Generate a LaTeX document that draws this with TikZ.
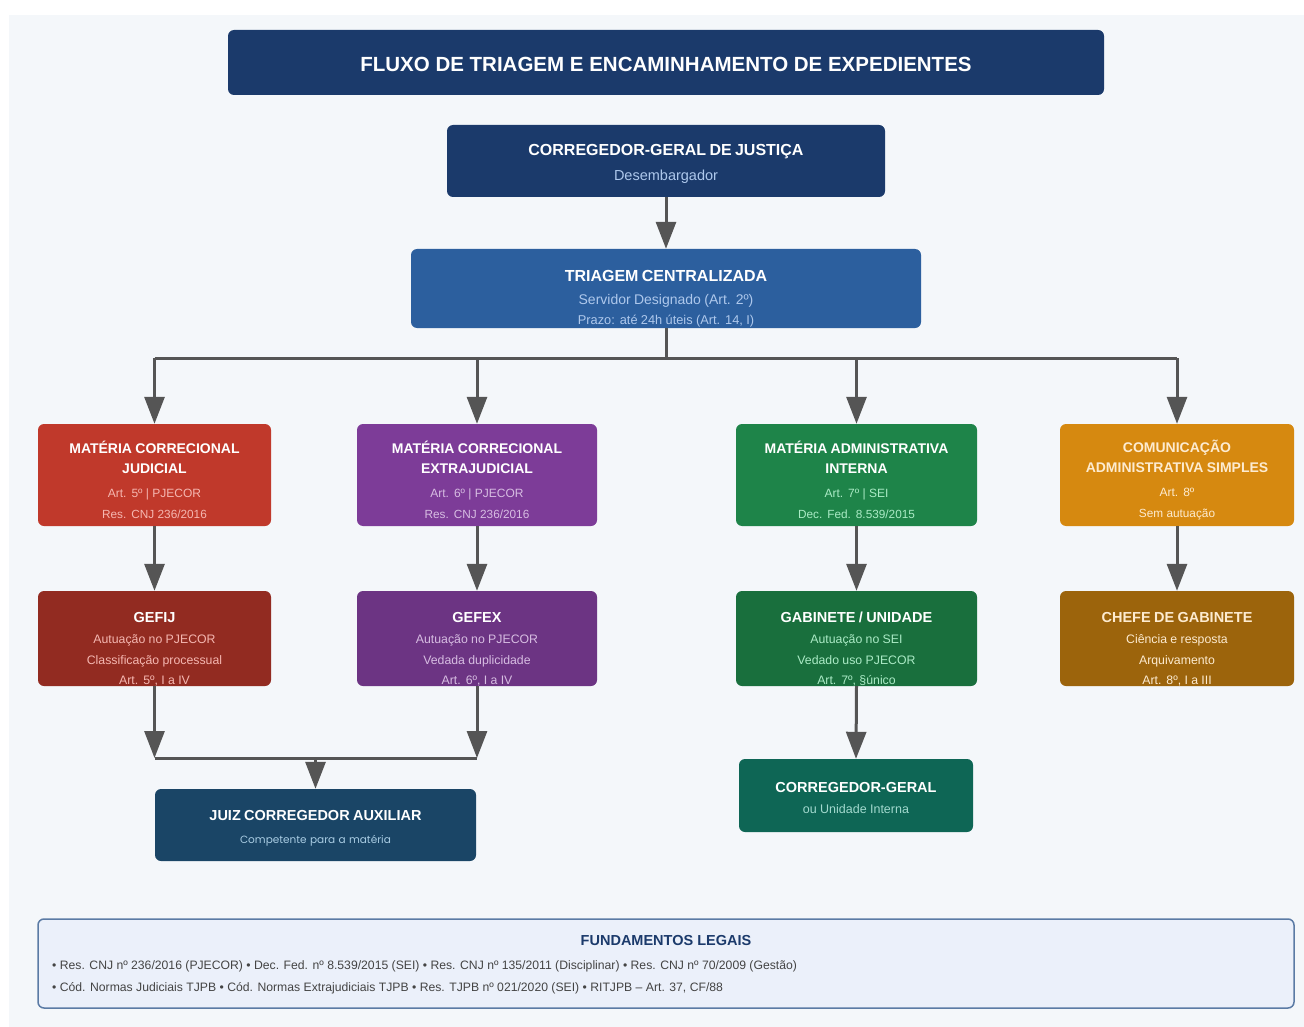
\documentclass[tikz,border=0pt]{standalone}
\usepackage{fontspec}
\setmainfont{Liberation Sans}
\newfontfamily\popfont{Poppins}
\usetikzlibrary{arrows.meta}
\definecolor{bgc}{HTML}{F4F7FA}
\definecolor{navy}{HTML}{1B3A6B}
\definecolor{triblue}{HTML}{2C5F9E}
\definecolor{redA}{HTML}{C0392B}
\definecolor{redB}{HTML}{922B21}
\definecolor{purA}{HTML}{7D3C98}
\definecolor{purB}{HTML}{6C3483}
\definecolor{grnA}{HTML}{1E8449}
\definecolor{grnB}{HTML}{196F3D}
\definecolor{orgA}{HTML}{D68910}
\definecolor{orgB}{HTML}{9C640C}
\definecolor{juizc}{HTML}{1A4566}
\definecolor{tealc}{HTML}{0E6655}
\definecolor{legfill}{HTML}{EBF0FA}
\definecolor{legdraw}{HTML}{5B7BA5}
\definecolor{arrc}{HTML}{555555}
\definecolor{subblue}{HTML}{AEC8EC}
\definecolor{subred}{HTML}{F5B7B1}
\definecolor{subpur}{HTML}{D7BDE2}
\definecolor{subgrn}{HTML}{ABEBC6}
\definecolor{suborg}{HTML}{FDEBD0}
\definecolor{subjuiz}{HTML}{A9CCE3}
\definecolor{subteal}{HTML}{A2D9CE}
\definecolor{legtxt}{HTML}{444444}
\tikzset{
  box/.style={rounded corners=6pt, inner sep=0pt, draw=none},
  txt/.style={align=center, text width=320pt, text=white, inner sep=0pt},
  one/.style={align=center, text=white, inner sep=0pt},
  arr/.style={draw=arrc, line width=3pt, -{Triangle[length=27pt,width=20pt]}},
  ln/.style={draw=arrc, line width=3pt},
}
\begin{document}
\begin{tikzpicture}[x=1pt,y=-1pt]
\useasboundingbox (0,0) rectangle (1304,1027);
\fill[white] (0,0) rectangle (1304,1027);
\fill[bgc] (9,15) rectangle (1304,1027);

% title
\node[box, fill=navy, minimum width=876pt, minimum height=65pt] (title) at (666,62.5) {};
\node[one, font=\fontsize{20.5}{24}\selectfont\bfseries] (titlet) at ([yshift=-1.5pt]title.center) {FLUXO DE TRIAGEM E ENCAMINHAMENTO DE EXPEDIENTES};

% corregedor
\node[box, fill=navy, minimum width=438pt, minimum height=72pt] (cgj) at (666,161) {};
\node[txt] (cgjt) at ([yshift=-3pt]cgj.center) {{\fontsize{16}{20}\selectfont\bfseries CORREGEDOR-GERAL DE JUSTIÇA\par}{\fontsize{14.5}{25}\selectfont\textcolor{subblue}{Desembargador}\par}};

% triagem
\node[box, fill=triblue, minimum width=510pt, minimum height=79pt] (tri) at (666,288.5) {};
\node[txt] (trit) at ([yshift=-10.5pt]tri.center) {{\fontsize{16}{20}\selectfont\bfseries TRIAGEM CENTRALIZADA\par}{\fontsize{14}{23}\selectfont\textcolor{subblue}{Servidor Designado (Art. 2º)}\par}{\fontsize{12.8}{20}\selectfont\textcolor{subblue}{Prazo: até 24h úteis (Art. 14, I)}\par}};

% row 1
\node[box, fill=redA, minimum width=233pt, minimum height=102pt] (mcj) at (154.5,475) {};
\node[box, fill=purA, minimum width=240pt, minimum height=102pt] (mce) at (477,475) {};
\node[box, fill=grnA, minimum width=241pt, minimum height=102pt] (mai) at (856.5,475) {};
\node[box, fill=orgA, minimum width=234pt, minimum height=102pt] (cas) at (1177,475) {};

\node[txt] (mcjt) at ([yshift=-4.5pt]mcj.center) {{\fontsize{14}{20}\selectfont\bfseries MATÉRIA CORRECIONAL\par}{\fontsize{14}{20}\selectfont\bfseries JUDICIAL\par}{\fontsize{12}{24}\selectfont\textcolor{subred}{Art. 5º \textbar{} PJECOR}\par}{\fontsize{11.8}{21}\selectfont\textcolor{subred}{Res. CNJ 236/2016}\par}};
\node[txt] (mcet) at ([yshift=-4.5pt]mce.center) {{\fontsize{14}{20}\selectfont\bfseries MATÉRIA CORRECIONAL\par}{\fontsize{14}{20}\selectfont\bfseries EXTRAJUDICIAL\par}{\fontsize{12}{24}\selectfont\textcolor{subpur}{Art. 6º \textbar{} PJECOR}\par}{\fontsize{11.8}{21}\selectfont\textcolor{subpur}{Res. CNJ 236/2016}\par}};
\node[txt] (mait) at ([yshift=-4.5pt]mai.center) {{\fontsize{14}{20}\selectfont\bfseries MATÉRIA ADMINISTRATIVA\par}{\fontsize{14}{20}\selectfont\bfseries INTERNA\par}{\fontsize{12}{24}\selectfont\textcolor{subgrn}{Art. 7º \textbar{} SEI}\par}{\fontsize{11.8}{21}\selectfont\textcolor{subgrn}{Dec. Fed. 8.539/2015}\par}};
\node[txt, text=suborg] (cast) at ([yshift=-5.5pt]cas.center) {{\fontsize{14}{20}\selectfont\bfseries COMUNICAÇÃO\par}{\fontsize{14}{20}\selectfont\bfseries ADMINISTRATIVA SIMPLES\par}{\fontsize{12}{24}\selectfont Art. 8º\par}{\fontsize{11.8}{21}\selectfont Sem autuação\par}};

% row 2
\node[box, fill=redB, minimum width=233pt, minimum height=95pt] (gefij) at (154.5,638.5) {};
\node[box, fill=purB, minimum width=240pt, minimum height=95pt] (gefex) at (477,638.5) {};
\node[box, fill=grnB, minimum width=241pt, minimum height=95pt] (gab) at (856.5,638.5) {};
\node[box, fill=orgB, minimum width=234pt, minimum height=95pt] (chefe) at (1177,638.5) {};

\node[txt] (gefijt) at ([yshift=-10.5pt]gefij.center) {{\fontsize{14.5}{20}\selectfont\bfseries GEFIJ\par}{\fontsize{12.3}{21}\selectfont\textcolor{subred}{Autuação no PJECOR}\par}{\fontsize{12.3}{21}\selectfont\textcolor{subred}{Classificação processual}\par}{\fontsize{12.3}{20}\selectfont\textcolor{subred}{Art. 5º, I a IV}\par}};
\node[txt] (gefext) at ([yshift=-10.5pt]gefex.center) {{\fontsize{14.5}{20}\selectfont\bfseries GEFEX\par}{\fontsize{12.3}{21}\selectfont\textcolor{subpur}{Autuação no PJECOR}\par}{\fontsize{12.3}{21}\selectfont\textcolor{subpur}{Vedada duplicidade}\par}{\fontsize{12.3}{20}\selectfont\textcolor{subpur}{Art. 6º, I a IV}\par}};
\node[txt] (gabt) at ([yshift=-10.5pt]gab.center) {{\fontsize{14.5}{20}\selectfont\bfseries GABINETE / UNIDADE\par}{\fontsize{12.3}{21}\selectfont\textcolor{subgrn}{Autuação no SEI}\par}{\fontsize{12.3}{21}\selectfont\textcolor{subgrn}{Vedado uso PJECOR}\par}{\fontsize{12.3}{20}\selectfont\textcolor{subgrn}{Art. 7º, §único}\par}};
\node[txt, text=suborg] (chefet) at ([yshift=-10.5pt]chefe.center) {{\fontsize{14.5}{20}\selectfont\bfseries CHEFE DE GABINETE\par}{\fontsize{12.3}{21}\selectfont Ciência e resposta\par}{\fontsize{12.3}{21}\selectfont Arquivamento\par}{\fontsize{12.3}{20}\selectfont Art. 8º, I a III\par}};

% bottom boxes
\node[box, fill=juizc, minimum width=321pt, minimum height=72pt] (juiz) at (315.5,825) {};
\node[txt] (juizt) at ([yshift=-3pt]juiz.center) {{\fontsize{14.5}{20}\selectfont\bfseries JUIZ CORREGEDOR AUXILIAR\par}{\popfont\fontsize{10.5}{23}\selectfont\textcolor{subjuiz}{Competente para a matéria}\par}};
\node[box, fill=tealc, minimum width=234pt, minimum height=73pt] (cgi) at (856,795.5) {};
\node[txt] (cgit) at ([yshift=-2pt]cgi.center) {{\fontsize{14.5}{20}\selectfont\bfseries CORREGEDOR-GERAL\par}{\fontsize{12.5}{21}\selectfont\textcolor{subteal}{ou Unidade Interna}\par}};

% connectors
\coordinate (bus) at (666,358);
\coordinate (busL) at (154.5,358);
\coordinate (busR) at (1177,358);
\coordinate (mL) at (154.5,758);
\coordinate (mR) at (477,758);
\coordinate (mC) at (315.5,758);

\draw[arr] (cgj.south) -- (tri.north);
\draw[ln] (tri.south) -- (bus);
\draw[ln] (busL) -- (busR);
\draw[arr] (busL) -- (mcj.north);
\draw[arr] (mce.north |- bus) -- (mce.north);
\draw[arr] (mai.north |- bus) -- (mai.north);
\draw[arr] (busR) -- (cas.north);

\draw[arr] (mcj.south) -- (gefij.north);
\draw[arr] (mce.south) -- (gefex.north);
\draw[arr] (mai.south) -- (gab.north);
\draw[arr] (cas.south) -- (chefe.north);

\draw[arr] (gefij.south) -- (mL);
\draw[arr] (gefex.south) -- (mR);
\draw[ln] (mL) -- (mR);
\draw[arr] (mC) -- (juiz.north);
\draw[arr] (gab.south) -- (cgi.north);

% legend
\node[box, fill=legfill, draw=legdraw, line width=1.5pt, minimum width=1256pt, minimum height=89pt] (leg) at (666,963.5) {};
\node[one, text=navy, font=\fontsize{14.5}{17}\selectfont\bfseries] (legt) at (666,941) {FUNDAMENTOS LEGAIS};
\node[one, text=legtxt, anchor=west, font=\fontsize{12.2}{14}\selectfont] (leg1) at (52,966.5) {• Res. CNJ nº 236/2016 (PJECOR) • Dec. Fed. nº 8.539/2015 (SEI) • Res. CNJ nº 135/2011 (Disciplinar) • Res. CNJ nº 70/2009 (Gestão)};
\node[one, text=legtxt, anchor=west, font=\fontsize{12.2}{14}\selectfont] (leg2) at (52,988.5) {• Cód. Normas Judiciais TJPB • Cód. Normas Extrajudiciais TJPB • Res. TJPB nº 021/2020 (SEI) • RITJPB – Art. 37, CF/88};
\end{tikzpicture}
\end{document}
